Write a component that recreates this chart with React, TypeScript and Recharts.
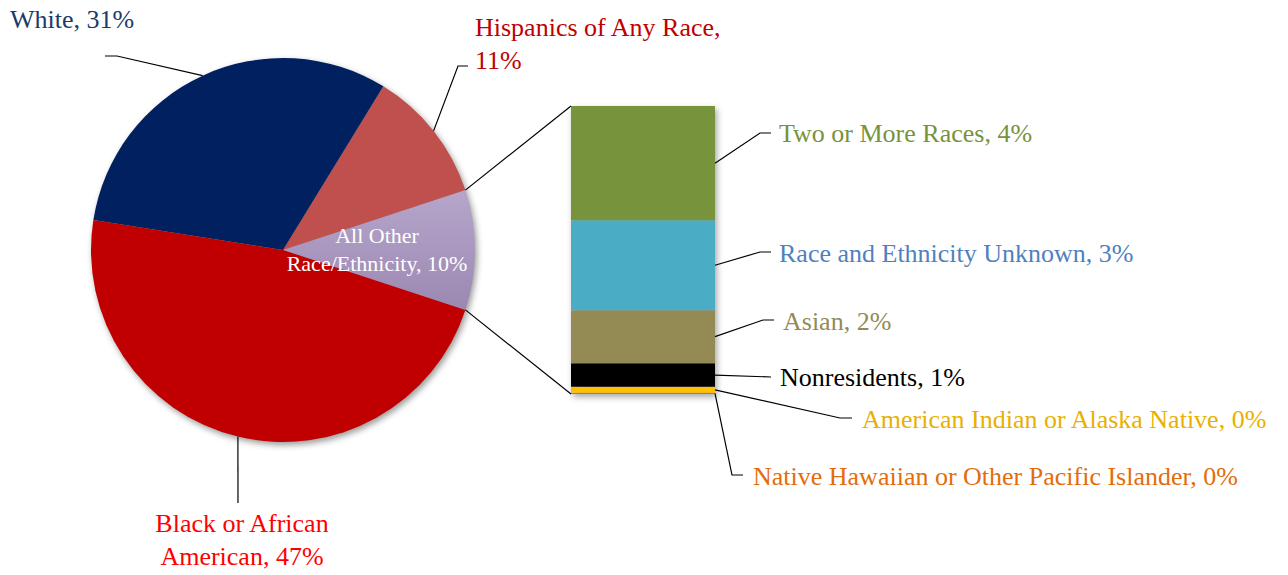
import { Bar, BarChart, Pie, PieChart, Cell, XAxis, YAxis } from "recharts";

// pie slices, counter-clockwise from 3 o'clock
const pieNames = [
  "All Other Race/Ethnicity",
  "Hispanics of Any Race",
  "White",
  "Black or African American",
];
const pieValues = [10.1, 11.2, 31.25, 47.45];
const pieLabels = [
  ["All Other", "Race/Ethnicity, 10%"],
  ["Hispanics of Any Race,", "11%"],
  ["White, 31%"],
  ["Black or African", "American, 47%"],
];
const pieColors = ["url(#otherGrad)", "#C0504D", "#002060", "#C00000"];
const pieLabelColors = ["#FFFFFF", "#C00000", "#1B3A6B", "#FF0000"];

// breakdown of "All Other", bottom to top
const barKeys = ["nhpi", "aian", "nonres", "asian", "unknown", "twoMore"];
const barNames = [
  "Native Hawaiian or Other Pacific Islander",
  "American Indian or Alaska Native",
  "Nonresidents",
  "Asian",
  "Race and Ethnicity Unknown",
  "Two or More Races",
];
const barValues = [0.04, 0.21, 0.83, 1.86, 3.15, 4.01];
const barPercents = ["0%", "0%", "1%", "2%", "3%", "4%"];
const barColors = ["#E46C0A", "#FFC000", "#000000", "#948A54", "#4BACC6", "#77933C"];
const barLabelColors = ["#E46C0A", "#E8B000", "#000000", "#948A54", "#4F81BD", "#77933C"];

const W = 1288;
const H = 575;
const FONT = "'Liberation Serif', 'Times New Roman', serif";

// layout
const PIE_CX = 283;
const PIE_CY = 250;
const PIE_R = 192;
const BAR_LEFT = 571;
const BAR_RIGHT = 715;
const BAR_TOP = 106;
const BAR_BOTTOM = 394;

const pieTotal = pieValues.reduce((a, b) => a + b, 0);
const startAngle = -((pieValues[0] / pieTotal) * 360) / 2;

const RAD = Math.PI / 180;
const polar = (cx: number, cy: number, r: number, a: number) => ({
  x: cx + r * Math.cos(a * RAD),
  y: cy - r * Math.sin(a * RAD),
});

// label placement: elbow/end of the leader, text start/centre and line centres
const pieLabelLayout = [
  { inside: 0.49, tx: 377, ys: [-15, 13], anchor: "middle", size: 22 },
  { elbow: [458, 66], end: [468, 66], tx: 475, ys: [27, 60], anchor: "start", size: 26 },
  { elbow: [117, 56], end: [105, 56], tx: 10, ys: [19], anchor: "start", size: 26 },
  { elbow: [238, 503], end: [238, 503], tx: 242, ys: [523, 556], anchor: "middle", size: 26 },
];

const barLabelLayout = [
  { elbow: [732, 475], end: [743, 475], tx: 753, ty: 476 },
  { elbow: [840, 418], end: [852, 418], tx: 862, ty: 419 },
  { elbow: [771, 377], end: [771, 377], tx: 780, ty: 377 },
  { elbow: [763, 320], end: [774, 320], tx: 783, ty: 321 },
  { elbow: [760, 252], end: [771, 252], tx: 779, ty: 253 },
  { elbow: [760, 133], end: [771, 133], tx: 779, ty: 133 },
];

const pieData = pieNames.map((name, i) => ({ name, value: pieValues[i] }));

const barRow: Record<string, string | number> = { name: "All Other" };
barKeys.forEach((k, i) => {
  barRow[k] = barValues[i];
});
const barData = [barRow];
const barTotal = barValues.reduce((a, b) => a + b, 0);

function PieLabel(props: any) {
  const { cx, cy, outerRadius, midAngle, index } = props;
  const lay: any = pieLabelLayout[index];
  const lines = pieLabels[index];
  const color = pieLabelColors[index];
  if (lay.inside) {
    const c = polar(cx, cy, outerRadius * lay.inside, midAngle);
    const a0 = props.startAngle;
    const a1 = props.endAngle;
    const pTop = polar(cx, cy, outerRadius, Math.max(a0, a1));
    const pBot = polar(cx, cy, outerRadius, Math.min(a0, a1));
    return (
      <g>
        <line x1={pTop.x} y1={pTop.y} x2={BAR_LEFT} y2={BAR_TOP} stroke="#000" strokeWidth={1.2} />
        <line x1={pBot.x} y1={pBot.y} x2={BAR_LEFT} y2={BAR_BOTTOM} stroke="#000" strokeWidth={1.2} />
        {lines.map((t, i) => (
          <text
            key={i}
            x={lay.tx}
            y={c.y + lay.ys[i]}
            fill={color}
            fontFamily={FONT}
            fontSize={lay.size}
            textAnchor={lay.anchor}
            dominantBaseline="central"
          >
            {t}
          </text>
        ))}
      </g>
    );
  }
  const p = polar(cx, cy, outerRadius, midAngle);
  return (
    <g>
      <polyline
        points={`${p.x},${p.y} ${lay.elbow[0]},${lay.elbow[1]} ${lay.end[0]},${lay.end[1]}`}
        fill="none"
        stroke="#000"
        strokeWidth={1.2}
      />
      {lines.map((t, i) => (
        <text
          key={i}
          x={lay.tx}
          y={lay.ys[i]}
          fill={color}
          fontFamily={FONT}
          fontSize={lay.size}
          textAnchor={lay.anchor}
          dominantBaseline="central"
        >
          {t}
        </text>
      ))}
    </g>
  );
}

const makeBarLabel = (i: number) => (props: any) => {
  const { x, y, width, height } = props;
  const lay = barLabelLayout[i];
  const sx = x + width;
  const sy = y + height / 2;
  return (
    <g>
      <polyline
        points={`${sx},${sy} ${lay.elbow[0]},${lay.elbow[1]} ${lay.end[0]},${lay.end[1]}`}
        fill="none"
        stroke="#000"
        strokeWidth={1.2}
      />
      <text
        x={lay.tx}
        y={lay.ty}
        fill={barLabelColors[i]}
        fontFamily={FONT}
        fontSize={26}
        dominantBaseline="central"
      >
        {`${barNames[i]}, ${barPercents[i]}`}
      </text>
    </g>
  );
};

function StackBar({ dx = 0, dy = 0, shadow = false }: { dx?: number; dy?: number; shadow?: boolean }) {
  return (
    <BarChart
      width={W}
      height={H}
      data={barData}
      margin={{
        top: BAR_TOP + dy,
        right: W - BAR_RIGHT - dx,
        bottom: H - BAR_BOTTOM - dy,
        left: BAR_LEFT + dx,
      }}
      barCategoryGap={0}
      barGap={0}
    >
      <XAxis dataKey="name" type="category" hide />
      <YAxis type="number" domain={[0, barTotal]} hide />
      {barKeys.map((k, i) => (
        <Bar
          key={k}
          dataKey={k}
          stackId="other"
          fill={shadow ? "rgba(0,0,0,0.35)" : barColors[i]}
          isAnimationActive={false}
          label={shadow ? false : makeBarLabel(i)}
        />
      ))}
    </BarChart>
  );
}

export default function App() {
  return (
    <div style={{ position: "absolute", left: 0, top: 0, width: W, height: H, background: "#fff" }}>
      <svg width={0} height={0} style={{ position: "absolute" }}>
        <defs>
          <linearGradient id="otherGrad" x1="0" y1="0" x2="0" y2="1">
            <stop offset="0%" stopColor="#B6A6CB" />
            <stop offset="100%" stopColor="#9B88B2" />
          </linearGradient>
          <filter id="pieShadow" x="-20%" y="-20%" width="140%" height="140%">
            <feGaussianBlur stdDeviation="3" />
          </filter>
        </defs>
      </svg>
      {/* soft shadow under the stacked bar */}
      <div style={{ position: "absolute", left: 0, top: 0, filter: "blur(3px)" }}>
        <StackBar dx={2} dy={3} shadow />
      </div>
      <div style={{ position: "absolute", left: 0, top: 0 }}>
        <StackBar />
      </div>
      <div style={{ position: "absolute", left: 0, top: 0 }}>
        <PieChart width={W} height={H} margin={{ top: 0, right: 0, bottom: 0, left: 0 }}>
          {/* soft shadow under the pie */}
          <Pie
            data={pieData}
            dataKey="value"
            cx={PIE_CX + 2}
            cy={PIE_CY + 3}
            outerRadius={PIE_R}
            startAngle={startAngle}
            endAngle={startAngle + 360}
            stroke="none"
            fill="rgba(0,0,0,0.4)"
            isAnimationActive={false}
            label={false}
            labelLine={false}
          >
            {pieData.map((d) => (
              <Cell key={d.name} fill="rgba(0,0,0,0.4)" filter="url(#pieShadow)" />
            ))}
          </Pie>
          <Pie
            data={pieData}
            dataKey="value"
            nameKey="name"
            cx={PIE_CX}
            cy={PIE_CY}
            outerRadius={PIE_R}
            startAngle={startAngle}
            endAngle={startAngle + 360}
            stroke="none"
            isAnimationActive={false}
            label={PieLabel}
            labelLine={false}
          >
            {pieData.map((d, i) => (
              <Cell key={d.name} fill={pieColors[i]} />
            ))}
          </Pie>
        </PieChart>
      </div>
    </div>
  );
}
